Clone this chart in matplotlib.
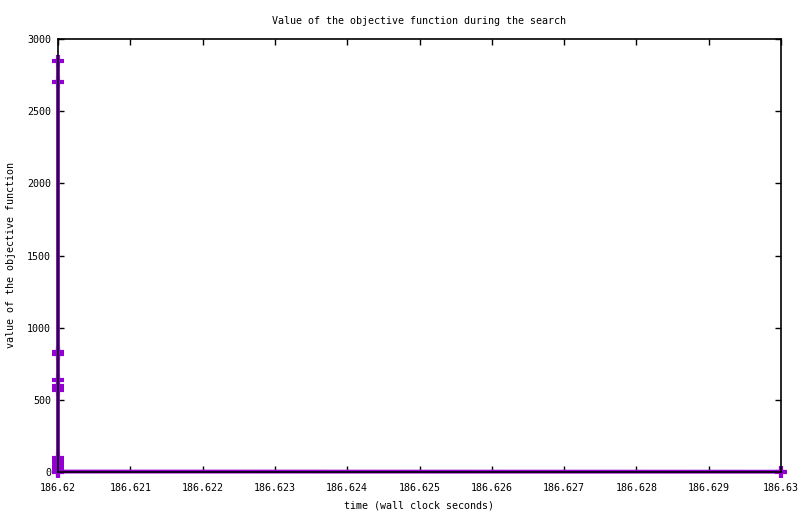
import matplotlib
matplotlib.use("Agg")
import matplotlib.pyplot as plt

# data
times = [186.62, 186.62, 186.62, 186.62, 186.62, 186.62, 186.62,
         186.62, 186.62, 186.62, 186.62, 186.62, 186.62, 186.63]
values = [2850, 2700, 830, 820, 635, 595, 565,
          95, 70, 45, 25, 10, 3, 2]
xticks = [186.62, 186.621, 186.622, 186.623, 186.624, 186.625,
          186.626, 186.627, 186.628, 186.629, 186.63]
xtick_labels = ["186.62", "186.621", "186.622", "186.623", "186.624", "186.625",
                "186.626", "186.627", "186.628", "186.629", "186.63"]
yticks = [0, 500, 1000, 1500, 2000, 2500, 3000]

plt.rcParams['font.family'] = ['DejaVu Sans Mono']
fig = plt.figure(figsize=(8, 5.14), dpi=100)
ax = fig.add_axes([58/800, 1-472/514, (781-58)/800, (472-39)/514])

ax.plot(times, values, color='#9400D3', lw=2.8, marker='+', ms=8, mew=3,
        clip_on=False, zorder=2)

ax.set_xlim(186.62, 186.63)
ax.set_ylim(0, 3000)
ax.set_xticks(xticks)
ax.set_xticklabels(xtick_labels)
ax.set_yticks(yticks)
ax.tick_params(direction='in', length=4, width=1, top=True, right=True,
               labelsize=7.2, pad=5, color='black')
ax.tick_params(axis='x', pad=8)
for s in ax.spines.values():
    s.set_linewidth(1.2)
    s.set_zorder(3)

ax.set_title("Value of the objective function during the search", fontsize=7.2, pad=11)
ax.set_xlabel("time (wall clock seconds)", fontsize=7.2, labelpad=5)
ax.set_ylabel("value of the objective function", fontsize=7.2, labelpad=8)

fig.savefig("out.png", dpi=100)
